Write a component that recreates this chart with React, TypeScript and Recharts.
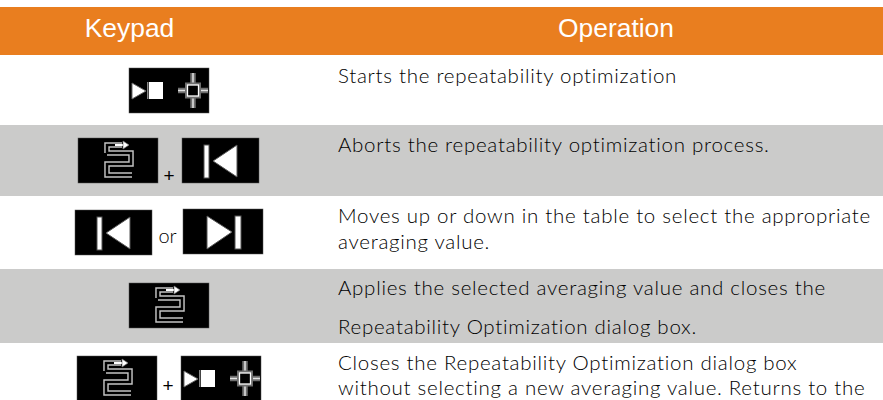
import { Bar, ComposedChart, Scatter, XAxis, YAxis } from 'recharts'

const WIDTH = 883
const HEIGHT = 400

// table bands, top to bottom (heights in px of the 400px page)
const bandNames = ['gap', 'header', 'row1', 'row2', 'row3', 'row4', 'row5']
const bandHeights = [7, 48, 70, 71, 73, 74, 57]
const bandFills = ['#ffffff', '#e97e1f', '#ffffff', '#cbcbca', '#ffffff', '#cbcbca', '#ffffff']

const headerLabels = ['Keypad', 'Operation']
const headerCenters = [129.5, 616]
const headerBaseline = 37

const operationLines = [
  'Starts the repeatability optimization',
  'Aborts the repeatability optimization process.',
  'Moves up or down in the table to select the appropriate',
  'averaging value.',
  'Applies the selected averaging value and closes the',
  'Repeatability Optimization dialog box.',
  'Closes the Repeatability Optimization dialog box',
  'without selecting a new averaging value. Returns to the',
]
const operationBaselines = [83, 152, 223, 249, 295, 334, 370, 395]

const keyKinds = ['runCross', 'serpentine', 'home', 'home', 'end', 'serpentine', 'serpentine', 'runCross']
const keyLeft = [129, 78, 182, 75, 183, 129, 77, 181]
const keyTop = [68, 138, 138, 210, 209, 283, 356, 356]

const joinLabels = ['+', 'or', '+']
const joinCenters = [169, 167.5, 168]
const joinBaselines = [181.5, 243, 391.5]

const bandRow = Object.fromEntries(bandNames.map((n, i) => [n, bandHeights[i]]))
const chartData = [{ table: 'table', ...bandRow }]

const headerPoints = headerLabels.map((text, i) => ({ x: headerCenters[i], y: headerBaseline, text }))
const operationPoints = operationLines.map((text, i) => ({ x: 338, y: operationBaselines[i], text }))
const keyPoints = keyKinds.map((kind, i) => ({ x: keyLeft[i], y: keyTop[i], kind }))
const joinPoints = joinLabels.map((text, i) => ({ x: joinCenters[i], y: joinBaselines[i], text }))

function HeaderText({ cx, cy, payload }: any) {
  return (
    <text x={cx} y={cy} textAnchor="middle" fontFamily="Liberation Sans" fontSize={26.4} fill="#ffffff">
      {payload.text}
    </text>
  )
}

function OperationText({ cx, cy, payload }: any) {
  return (
    <text x={cx} y={cy} fontFamily="Lato" fontWeight={300} fontSize={20.5} letterSpacing={0.72} fill="#000000">
      {payload.text}
    </text>
  )
}

function JoinText({ cx, cy, payload }: any) {
  const isOr = payload.text === 'or'
  return (
    <text
      x={cx}
      y={cy}
      textAnchor="middle"
      fontFamily={isOr ? 'Lato' : 'Liberation Sans'}
      fontWeight={isOr ? 300 : 400}
      fontSize={isOr ? 20 : 19}
      fill="#000000"
    >
      {payload.text}
    </text>
  )
}

const SNAKE = 'M29 15 V7 H44 M29 15 H53 V26 H29 V37 H54'

function KeyIcon({ cx, cy, payload }: any) {
  const kind = payload.kind
  const w = kind === 'home' ? 77 : 80
  return (
    <g transform={`translate(${cx} ${cy})`}>
      <rect width={w} height={45} fill="#000000" stroke="#555555" strokeWidth={0.5} />
      {kind === 'serpentine' && (
        <>
          <path d={SNAKE} fill="none" stroke="#c4c4c4" strokeWidth={5.5} />
          <path d={SNAKE} fill="none" stroke="#000000" strokeWidth={2.6} />
          <path d="M37 7 H46" fill="none" stroke="#ffffff" strokeWidth={2} />
          <path d="M45 3 L51 7 L45 11 Z" fill="#ffffff" stroke="#777777" strokeWidth={0.7} />
        </>
      )}
      {kind === 'home' && (
        <>
          <rect x={22} y={7} width={5} height={33} fill="#ffffff" stroke="#555555" />
          <path d="M31 23 L55 7 V39 Z" fill="#ffffff" stroke="#555555" />
        </>
      )}
      {kind === 'end' && (
        <>
          <rect x={52} y={7} width={6} height={33} fill="#ffffff" stroke="#555555" />
          <path d="M49 23 L24 7 V40 Z" fill="#ffffff" stroke="#555555" />
        </>
      )}
      {kind === 'runCross' && (
        <>
          <path d="M3 15 L17 23 L3 31 Z" fill="#ffffff" stroke="#666666" />
          <rect x={18} y={14} width={1.5} height={17} fill="#888888" />
          <rect x={20} y={14} width={14} height={17} fill="#ffffff" />
          <path d="M64 5 V40 M49 22.5 H79" fill="none" stroke="#6e6e6e" strokeWidth={5.5} />
          <path d="M64 5 V40 M49 22.5 H79" fill="none" stroke="#e2e2e2" strokeWidth={1.5} />
          <rect x={58} y={16.5} width={12} height={12} fill="#000000" stroke="#6e6e6e" strokeWidth={4} />
          <rect x={58.5} y={17} width={11} height={11} fill="#000000" stroke="#ffffff" strokeWidth={1.3} />
        </>
      )}
    </g>
  )
}

export default function App() {
  return (
    <div style={{ position: 'absolute', left: 0, top: 0, width: WIDTH, height: HEIGHT, overflow: 'hidden' }}>
      <ComposedChart
        width={WIDTH}
        height={HEIGHT}
        data={chartData}
        margin={{ top: 0, right: 0, bottom: 0, left: 0 }}
        barCategoryGap={0}
      >
        <XAxis xAxisId="band" dataKey="table" type="category" hide />
        <XAxis xAxisId="px" dataKey="x" type="number" domain={[0, WIDTH]} hide />
        <YAxis yAxisId="px" dataKey="y" type="number" domain={[0, HEIGHT]} reversed hide />
        {bandNames.map((name, i) => (
          <Bar
            key={name}
            xAxisId="band"
            yAxisId="px"
            dataKey={name}
            stackId="table"
            fill={bandFills[i]}
            isAnimationActive={false}
          />
        ))}
        <Scatter xAxisId="px" yAxisId="px" data={headerPoints} shape={<HeaderText />} isAnimationActive={false} />
        <Scatter xAxisId="px" yAxisId="px" data={operationPoints} shape={<OperationText />} isAnimationActive={false} />
        <Scatter xAxisId="px" yAxisId="px" data={keyPoints} shape={<KeyIcon />} isAnimationActive={false} />
        <Scatter xAxisId="px" yAxisId="px" data={joinPoints} shape={<JoinText />} isAnimationActive={false} />
      </ComposedChart>
    </div>
  )
}
